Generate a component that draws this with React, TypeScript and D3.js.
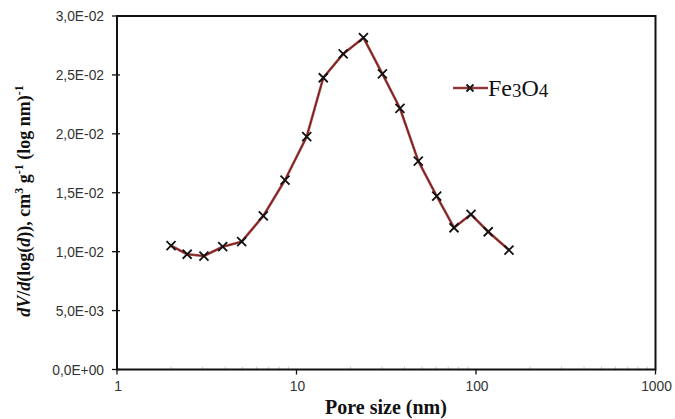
import React from "react";
import * as d3 from "d3";

const poreSize = [2.0, 2.46, 3.05, 3.88, 4.95, 6.53, 8.63, 11.4, 14.1, 18.2, 23.6, 30.1, 37.7, 47.7, 60.4, 75.4, 93.8, 117, 152.7];
const dVdlogd = [0.01051, 0.00978, 0.00963, 0.01042, 0.01085, 0.01303, 0.01608, 0.01976, 0.02476, 0.02678, 0.02816, 0.02508, 0.02217, 0.01769, 0.01472, 0.01203, 0.01317, 0.01169, 0.01014];
const yTicks = [0, 0.005, 0.01, 0.015, 0.02, 0.025, 0.03];
const yTickLabels = ["0,0E+00", "5,0E-03", "1,0E-02", "1,5E-02", "2,0E-02", "2,5E-02", "3,0E-02"];
const xTicks = [1, 10, 100, 1000];
const xTickLabels = ["1", "10", "100", "1000"];
const seriesName = ["Fe", "3", "O", "4"];

const W = 675, H = 419;
const L = 117, R = 655.5, T = 16, B = 369.5;

export default function App() {
  const x = d3.scaleLog().domain([1, 1000]).range([L, R]);
  const y = d3.scaleLinear().domain([0, 0.03]).range([B, T]);
  const data = poreSize.map((p, i) => [p, dVdlogd[i]] as [number, number]);
  const line = d3.line<[number, number]>().x(d => x(d[0])).y(d => y(d[1]));
  const minor: number[] = [];
  for (let dec = 1; dec < 1000; dec *= 10) for (let k = 2; k <= 9; k++) minor.push(dec * k);
  const cross = (cx: number, cy: number, s: number, key: any) => (
    <path key={key} d={`M${cx - s},${cy - s}L${cx + s},${cy + s}M${cx - s},${cy + s}L${cx + s},${cy - s}`} stroke="#111" strokeWidth={1.8} fill="none" />
  );
  const legY = 88;
  return (
    <svg width={W} height={H} style={{ position: "absolute", left: 0, top: 0, background: "#fff" }}>
      <rect x={0} y={0} width={W} height={H} fill="#fff" />
      {minor.map((m, i) => (
        <line key={"mn" + i} x1={x(m)} x2={x(m)} y1={B} y2={B - 3} stroke="#ccc" strokeWidth={1} />
      ))}
      <rect x={L} y={T} width={R - L} height={B - T} fill="none" stroke="#111" strokeWidth={2} />
      {yTicks.map((t, i) => (
        <g key={"yt" + i}>
          <line x1={L - 5} x2={L + 3} y1={y(t)} y2={y(t)} stroke="#111" strokeWidth={1.3} />
          <text x={104} y={y(t) + 5} textAnchor="end" fontFamily="Liberation Sans, Arial, sans-serif" fontSize={13.8} fill="#333">{yTickLabels[i]}</text>
        </g>
      ))}
      {xTicks.map((t, i) => (
        <g key={"xt" + i}>
          <line x1={x(t)} x2={x(t)} y1={B} y2={B + 5} stroke="#111" strokeWidth={1.3} />
          <text x={x(t) + 1} y={391} textAnchor="middle" fontFamily="Liberation Sans, Arial, sans-serif" fontSize={13.8} fill="#333">{xTickLabels[i]}</text>
        </g>
      ))}
      <path d={line(data) || ""} fill="none" stroke="#a05050" strokeWidth={2.6} strokeLinejoin="round" />
      <path d={line(data) || ""} fill="none" stroke="#801c1c" strokeWidth={1.2} strokeLinejoin="round" />
      {data.map((d, i) => cross(x(d[0]), y(d[1]), 4.5, "m" + i))}
      <line x1={453} x2={488} y1={legY} y2={legY} stroke="#a05050" strokeWidth={2.6} />
      <line x1={453} x2={488} y1={legY} y2={legY} stroke="#801c1c" strokeWidth={1.2} />
      {cross(470, legY, 3.5, "leg")}
      <text x={488} y={legY + 8} fontFamily="Liberation Serif, Times New Roman, serif" fontSize={24} fill="#111">
        {seriesName[0]}<tspan fontSize={19} dy={1}>{seriesName[1]}</tspan><tspan fontSize={24} dy={-1}>{seriesName[2]}</tspan><tspan fontSize={19} dy={1}>{seriesName[3]}</tspan>
      </text>
      <text x={386} y={414} textAnchor="middle" fontFamily="Liberation Serif, Times New Roman, serif" fontWeight="bold" fontSize={20} fill="#111">Pore size (nm)</text>
      <text transform="translate(30,201) rotate(-90)" textAnchor="middle" fontFamily="Liberation Serif, Times New Roman, serif" fontWeight="bold" fontSize={18} fill="#111">
        <tspan fontStyle="italic">dV</tspan>/<tspan fontStyle="italic">d</tspan>(log(<tspan fontStyle="italic">d</tspan>)), cm<tspan fontSize={12} dy={-7}>3</tspan><tspan dy={7}> g</tspan><tspan fontSize={12} dy={-7}>-1</tspan><tspan dy={7}> (log nm)</tspan><tspan fontSize={12} dy={-7}>-1</tspan>
      </text>
    </svg>
  );
}
